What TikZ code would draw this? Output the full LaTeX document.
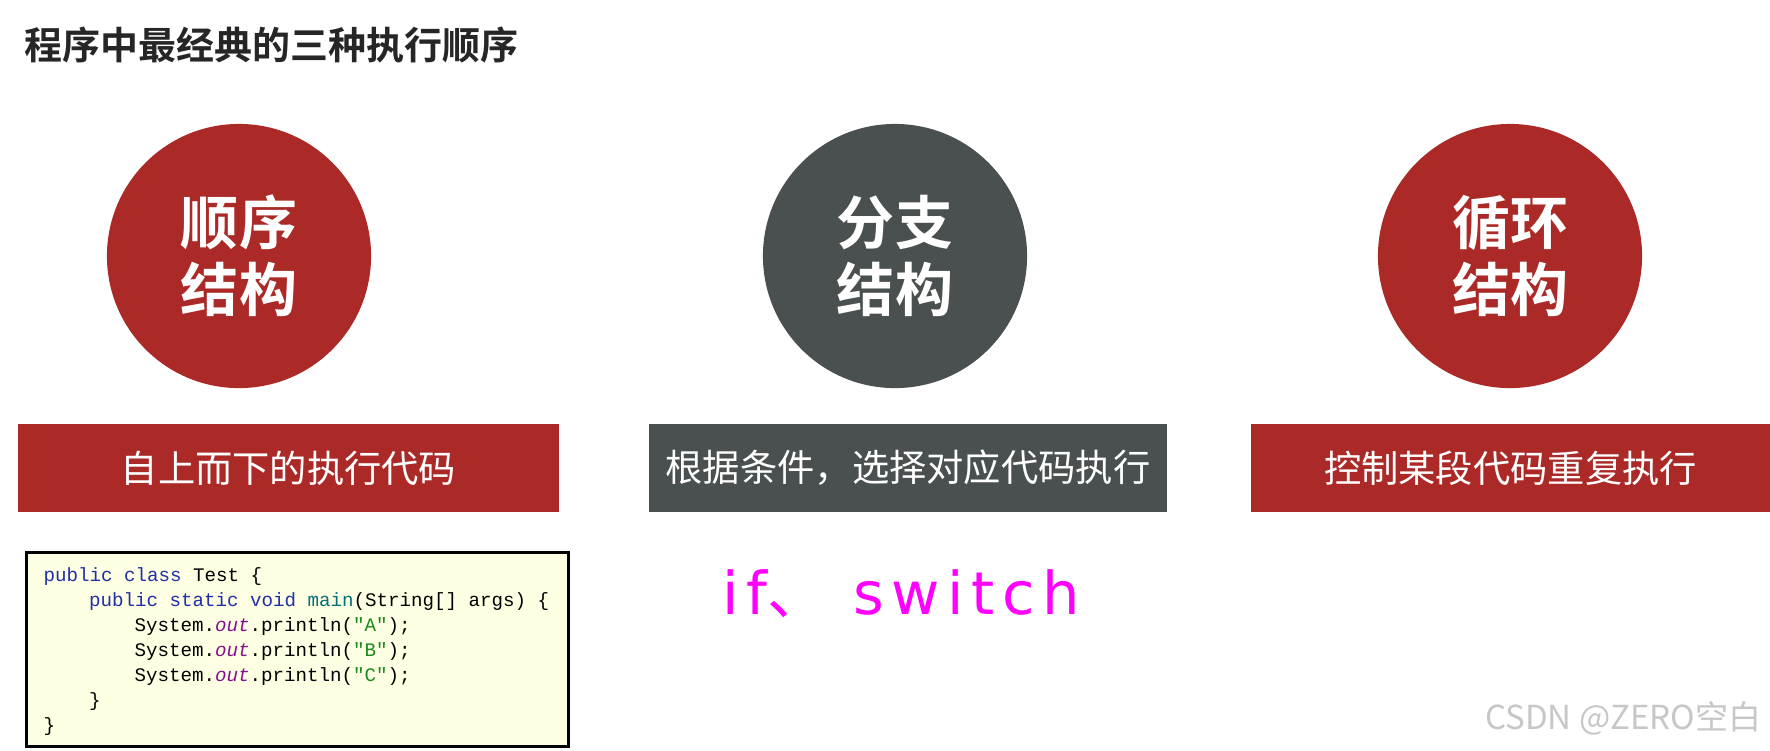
\documentclass[tikz,border=0pt]{standalone}
\usepackage{fontspec}
\setmainfont{Liberation Sans}
\setmonofont{Liberation Mono}
\newfontfamily\cjk{Noto Sans CJK SC}
\newfontfamily\cjkbold{Noto Sans CJK SC Bold}
\newfontfamily\roundfont[LetterSpace=13]{DejaVu Sans}
\usepackage{tikz}

\definecolor{brickred}{HTML}{AB2A27}
\definecolor{slategray}{HTML}{4A5050}
\definecolor{titlegray}{HTML}{262626}
\definecolor{codebg}{HTML}{FFFFE3}
\definecolor{kwblue}{HTML}{1F2FA8}
\definecolor{fnteal}{HTML}{00707A}
\definecolor{fldpurple}{HTML}{84108F}
\definecolor{strgreen}{HTML}{1A8A1A}
\definecolor{hotpink}{HTML}{FF00FF}

\tikzset{
  bigdot/.style={circle, minimum size=2.64cm, inner sep=0pt, text=white,
    align=center, font=\cjkbold\fontsize{16.5}{19}\selectfont},
  banner/.style={rectangle, minimum height=0.88cm, inner sep=0pt, text=white,
    font=\cjk\fontsize{10.6}{12}\selectfont},
  codeline/.style={anchor=base west, inner sep=0pt,
    font=\ttfamily\fontsize{5.45}{7}\selectfont},
}
\newcommand{\kw}[1]{\textcolor{kwblue}{#1}}
\newcommand{\fld}[1]{\textcolor{fldpurple}{\itshape #1}}
\newcommand{\str}[1]{\textcolor{strgreen}{#1}}

\begin{document}
\begin{tikzpicture}[x=0.01cm, y=-0.01cm]
\useasboundingbox[fill=white] (0,0) rectangle (1770,750);

\node[anchor=west, inner sep=0pt, text=titlegray, font=\cjkbold\fontsize{10.8}{13}\selectfont] (title) at (24,45) {程序中最经典的三种执行顺序};

% the three kinds
\node[bigdot, fill=brickred] (seq) at (239,256) {顺序\\结构};
\node[bigdot, fill=slategray] (branch) at (895,256) {分支\\结构};
\node[bigdot, fill=brickred] (loop) at (1510,256) {循环\\结构};

\node[banner, fill=brickred, minimum width=5.41cm] (seqtext) at (288.5,468) {自上而下的执行代码};
\node[banner, fill=slategray, minimum width=5.18cm] (branchtext) at (908,468) {根据条件，选择对应代码执行};
\node[banner, fill=brickred, minimum width=5.19cm] (looptext) at (1510.5,468) {控制某段代码重复执行};

% sample code
\node[draw=black, line width=0.3mm, fill=codebg, rectangle, minimum width=5.41cm, minimum height=1.93cm, inner sep=0pt] (codebox) at (297.5,649.5) {};
\node[codeline] (c1) at (43,581) {\kw{public} \kw{class} Test \{};
\node[codeline] (c2) at (88.5,606) {\kw{public} \kw{static} \kw{void} \textcolor{fnteal}{main}(String[] args) \{};
\node[codeline] (c3) at (134,631) {System.\fld{out}.println(\str{"A"});};
\node[codeline] (c4) at (134,656) {System.\fld{out}.println(\str{"B"});};
\node[codeline] (c5) at (134,681) {System.\fld{out}.println(\str{"C"});};
\node[codeline] (c6) at (88.5,706) {\}};
\node[codeline] (c7) at (43,731) {\}};

\node[anchor=west, inner sep=0pt, text=hotpink, font=\roundfont\fontsize{16.8}{18}\selectfont] (keywords) at (722,594) {if{\cjk 、} switch};

\node[anchor=east, inner sep=0pt, text=black!22, font=\cjk\fontsize{9.4}{11}\selectfont] (mark) at (1762,718) {CSDN @ZERO空白};
\end{tikzpicture}
\end{document}
